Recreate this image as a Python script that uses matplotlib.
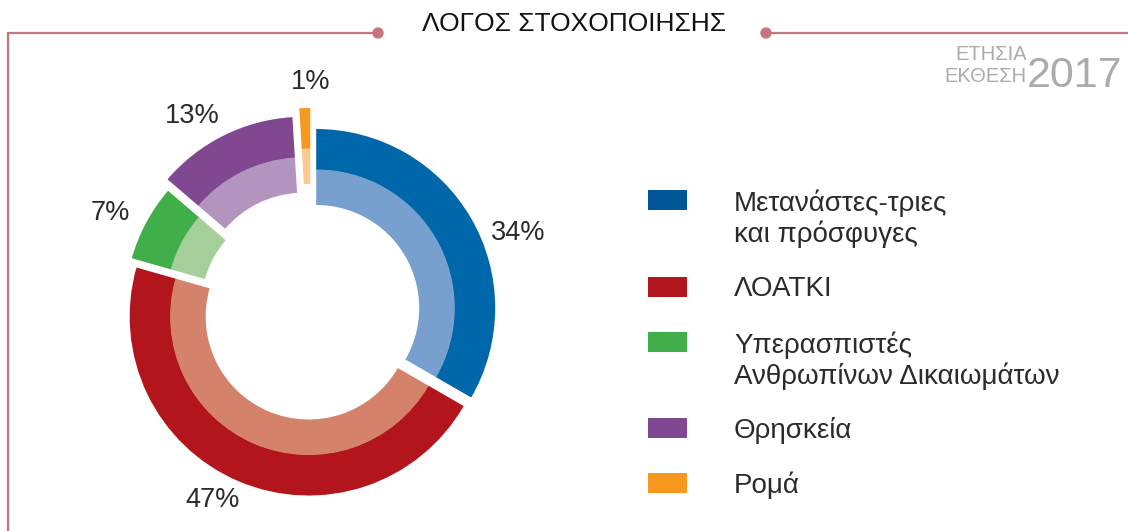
import matplotlib.pyplot as plt
from matplotlib.patches import Circle

# data
categories = ['Μετανάστες-τριες\nκαι πρόσφυγες', 'ΛΟΑΤΚΙ',
              'Υπερασπιστές\nΑνθρωπίνων Δικαιωμάτων', 'Θρησκεία', 'Ρομά']
shares = [34, 47, 7, 13, 1]
pct_labels = ['34%', '47%', '7%', '13%', '1%']

outer_colors = ['#0067ab', '#b2151b', '#40ae49', '#804890', '#f6991e']
inner_colors = ['#77a0cf', '#d4826a', '#a4cf9a', '#b394bf', '#fdc98e']
legend_colors = ['#005596', '#b2151b', '#40ae49', '#804890', '#f6991e']

W, H = 1128, 531
fig = plt.figure(figsize=(W / 100, H / 100), dpi=100)
ax = fig.add_axes([0, 0, 1, 1])

plt.rcParams['font.family'] = ['Liberation Sans', 'DejaVu Sans']
txt = '#2b2b2b'
line_c = '#c6767b'

# donut (pixel coordinates, y measured up from bottom)
cx, cy = 311, H - 311
R = 179
explode = [6, 6, 8, 17, 24]
ax.pie(shares, radius=R, center=(cx, cy), startangle=90, counterclock=False,
       colors=outer_colors, explode=explode,
       wedgeprops=dict(width=R - 138, edgecolor='none'))
ax.pie(shares, radius=138.5, center=(cx, cy), startangle=90, counterclock=False,
       colors=inner_colors, explode=explode,
       wedgeprops=dict(width=138.5 - 103, edgecolor='none'))

# percentage labels
label_pos = [(518, 233), (213, 500), (110, 213), (192, 116), (311, 82)]
for (x, y), t in zip(label_pos, pct_labels):
    ax.text(x, H - y, t, fontsize=19.5, color=txt, ha='center', va='center')

# legend
sq_y = [200, 287, 342, 428, 483]
text_y = [219, 289, 361, 431, 485]
for c, name, sy, ty in zip(legend_colors, categories, sq_y, text_y):
    ax.add_patch(plt.Rectangle((648, H - sy - 10), 39, 20, color=c, lw=0))
    ax.text(734, H - ty, name, fontsize=20, color=txt, ha='left', va='center',
            linespacing=1.15)

# title + frame lines
ax.text(574, H - 24, 'ΛΟΓΟΣ ΣΤΟΧΟΠΟΙΗΣΗΣ', fontsize=19, color='#111111',
        ha='center', va='center')
ax.plot([8, 8, 378], [0, H - 33, H - 33], color=line_c, lw=1.6,
        solid_joinstyle='miter')
ax.plot([766, W], [H - 33, H - 33], color=line_c, lw=1.6)
ax.add_patch(Circle((378, H - 33), 5, color=line_c))
ax.add_patch(Circle((766, H - 33), 5, color=line_c))

# report logo
logo_c = '#ababab'
ax.text(1027, H - 54, 'ΕΤΗΣΙΑ', fontsize=14.5, color=logo_c, ha='right',
        va='center')
ax.text(1027, H - 77, 'ΕΚΘΕΣΗ', fontsize=14.5, color=logo_c, ha='right',
        va='center')
ax.text(1122, H - 87, '2017', fontsize=31, color=logo_c, ha='right',
        va='baseline')

ax.set_xlim(0, W)
ax.set_ylim(0, H)
ax.set_aspect('equal')
ax.axis('off')

plt.savefig('out.png', dpi=100)
plt.close()
